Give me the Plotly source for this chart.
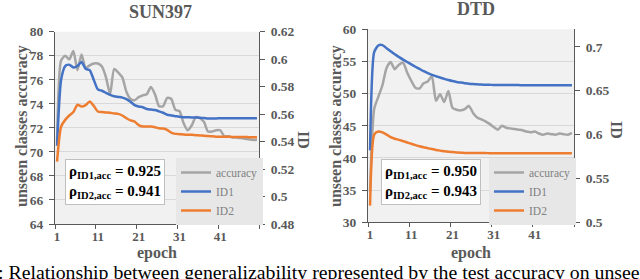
import plotly.graph_objects as go

epochs = list(range(1, 51))

# SUN397
sun_acc = [70.8, 77.6, 78.0, 77.7, 78.4, 76.8, 78.1, 77.0, 77.2, 77.35,
           77.35, 77.1, 76.2, 74.8, 76.9, 76.6, 76.2, 75.0, 74.4, 74.3,
           74.55, 74.7, 74.8, 75.4, 74.8, 73.8, 73.8, 74.5, 74.4, 73.5,
           73.4, 72.4, 71.8, 72.2, 72.9, 72.8, 72.5, 71.7, 71.7, 71.8,
           71.8, 71.3, 71.3, 71.2, 71.2, 71.15, 71.1, 71.05, 71.0, 71.0]
sun_id1 = [0.537, 0.585, 0.595, 0.596, 0.594, 0.595, 0.598, 0.593, 0.592, 0.585,
           0.578, 0.577, 0.5755, 0.574, 0.573, 0.5725, 0.572, 0.571, 0.569, 0.5665,
           0.5655, 0.565, 0.5637, 0.5633, 0.563, 0.562, 0.561, 0.5595, 0.559, 0.5585,
           0.558, 0.5578, 0.5577, 0.5576, 0.5575, 0.5574, 0.5572, 0.5568, 0.5568, 0.5568,
           0.557, 0.557, 0.557, 0.557, 0.557, 0.557, 0.557, 0.557, 0.557, 0.557]
sun_id2 = [0.5254, 0.551, 0.5558, 0.559, 0.5615, 0.5668, 0.5655, 0.5665, 0.5692, 0.566,
           0.5619, 0.5615, 0.5612, 0.561, 0.5605, 0.5602, 0.559, 0.557, 0.5555, 0.5546,
           0.552, 0.551, 0.551, 0.551, 0.5505, 0.5497, 0.5495, 0.5485, 0.5465, 0.5456,
           0.5454, 0.5452, 0.545, 0.5449, 0.5447, 0.5445, 0.5443, 0.5441, 0.5438, 0.5436,
           0.5436, 0.5435, 0.5435, 0.5434, 0.5434, 0.5433, 0.5433, 0.5432, 0.5432, 0.5432]

# DTD
dtd_acc = [34.8, 47.6, 49.5, 51.3, 54.0, 54.9, 53.8, 54.5, 54.8, 53.3,
           52.0, 50.9, 50.8, 51.6, 51.9, 52.7, 48.9, 49.9, 48.7, 50.4,
           47.8, 47.5, 47.4, 47.6, 48.1, 47.0, 46.3, 46.0, 45.7, 45.3,
           44.8, 44.4, 45.0, 44.7, 44.6, 44.5, 44.4, 44.3, 44.1, 44.0,
           44.1, 43.8, 43.6, 43.8, 43.7, 43.6, 43.8, 43.7, 43.6, 43.9]
dtd_id1 = [0.582, 0.694, 0.7015, 0.702, 0.6985, 0.695, 0.6915, 0.6885, 0.6855, 0.6827,
           0.680, 0.6773, 0.6748, 0.6722, 0.670, 0.668, 0.6665, 0.665, 0.6635, 0.6622,
           0.661, 0.660, 0.6593, 0.6586, 0.658, 0.6576, 0.6573, 0.657, 0.6568, 0.6567,
           0.6566, 0.6565, 0.6565, 0.6564, 0.6564, 0.6564, 0.6564, 0.6563, 0.6563, 0.6563,
           0.6563, 0.6563, 0.6563, 0.6563, 0.6563, 0.6563, 0.6563, 0.6563, 0.6563, 0.6563]
dtd_id2 = [0.519, 0.600, 0.6035, 0.6025, 0.600, 0.597, 0.5953, 0.594, 0.5925, 0.591,
           0.5895, 0.588, 0.5867, 0.5855, 0.5845, 0.5835, 0.5825, 0.5817, 0.581, 0.5804,
           0.580, 0.5796, 0.5793, 0.5791, 0.579, 0.579, 0.5789, 0.5789, 0.5789, 0.5788,
           0.5788, 0.5788, 0.5788, 0.5788, 0.5788, 0.5788, 0.5788, 0.5788, 0.5788, 0.5788,
           0.5788, 0.5788, 0.5788, 0.5788, 0.5788, 0.5788, 0.5788, 0.5788, 0.5788, 0.5788]

titles = ["SUN397", "DTD"]
rho_texts = [("0.925", "0.941"), ("0.950", "0.943")]
x_ticks = [1, 11, 21, 31, 41]
caption = ": Relationship between generalizability represented by the test accuracy on unseen"

SERIF = "Liberation Serif"
AX = "#595959"
GRAY = "#a5a5a5"
BLUE = "#4472c4"
ORANGE = "#ed7d31"
W, H = 640, 279

def px(x):
    return x / W

def py(y):
    return (H - y) / H

fig = go.Figure()

panels = [
    dict(acc=sun_acc, id1=sun_id1, id2=sun_id2, xa="x", ya="y", ya2="y2", leg="legend"),
    dict(acc=dtd_acc, id1=dtd_id1, id2=dtd_id2, xa="x2", ya="y3", ya2="y4", leg="legend2"),
]
for p in panels:
    fig.add_trace(go.Scatter(x=epochs, y=p["acc"], name="accuracy", mode="lines",
                             line=dict(color=GRAY, width=2.5, shape="spline", smoothing=0.6),
                             xaxis=p["xa"], yaxis=p["ya"], legend=p["leg"]))
    fig.add_trace(go.Scatter(x=epochs, y=p["id1"], name="ID1", mode="lines",
                             line=dict(color=BLUE, width=2.5, shape="spline", smoothing=0.6),
                             xaxis=p["xa"], yaxis=p["ya2"], legend=p["leg"]))
    fig.add_trace(go.Scatter(x=epochs, y=p["id2"], name="ID2", mode="lines",
                             line=dict(color=ORANGE, width=2.5, shape="spline", smoothing=0.6),
                             xaxis=p["xa"], yaxis=p["ya2"], legend=p["leg"]))

tickfont = dict(family=SERIF, size=13.5, color=AX)
TITLE_SIZE = 16

def xaxis(domain, anchor):
    return dict(domain=domain, anchor=anchor, range=[0.5, 50.5], automargin=False,
                tickmode="array", tickvals=x_ticks, ticktext=[f"<b>{v}</b>" for v in x_ticks],
                ticks="", showgrid=False, zeroline=False, showline=True, linecolor=AX, linewidth=1,
                tickfont=dict(family=SERIF, size=13, color=AX), ticklabelstandoff=0,
                minor=dict(tickmode="array", tickvals=[0.5 + 10 * k for k in range(6)],
                           ticks="outside", ticklen=4, tickcolor=AX, showgrid=False))

def yleft(domain, anchor, rng, dtick):
    return dict(domain=domain, anchor=anchor, range=rng, dtick=dtick, tick0=rng[0], automargin=False,
                ticks="outside", ticklen=5, tickcolor=AX, showline=True, linecolor=AX,
                showgrid=True, gridcolor="#d9d9d9", gridwidth=1, zeroline=False,
                tickfont=tickfont, tickprefix="<b>", ticksuffix="</b>", ticklabelstandoff=3)

def yright(domain, anchor, overlay, rng, dtick):
    return dict(domain=domain, anchor=anchor, overlaying=overlay, side="right",
                range=rng, dtick=dtick, tick0=rng[0], automargin=False,
                ticks="outside", ticklen=5, tickcolor=AX, showline=True, linecolor=AX,
                showgrid=False, zeroline=False,
                tickfont=tickfont, tickprefix="<b>", ticksuffix="</b>", ticklabelstandoff=3)

dom1x = [px(55), px(259)]
dom1y = [py(224), py(31.7)]
dom2x = [px(368), px(574)]
dom2y = [py(222.3), py(29.3)]

legend_common = dict(bgcolor="#e7e7e7", borderwidth=0, itemwidth=30,
                     font=dict(family=SERIF, size=11.5, color="#808080"),
                     xanchor="left", yanchor="top", tracegroupgap=0, itemclick=False)

fig.update_layout(
    width=W, height=H, margin=dict(l=0, r=0, t=0, b=0, autoexpand=False),
    paper_bgcolor="white", plot_bgcolor="#f1f1f1",
    xaxis=xaxis(dom1x, "y"),
    yaxis=yleft(dom1y, "x", [64, 80], 2),
    yaxis2=yright(dom1y, "x", "y", [0.48, 0.62], 0.02),
    xaxis2=xaxis(dom2x, "y3"),
    yaxis3=yleft(dom2y, "x2", [30, 60], 5),
    yaxis4=yright(dom2y, "x2", "y3", [0.5, 0.72], 0.05),
    legend=dict(x=px(176), y=py(158), **legend_common),
    legend2=dict(x=px(489), y=py(158), **legend_common),
    showlegend=True,
)

def text_ann(text, cx, cy, size, color=AX, angle=0, bold=True):
    return dict(text=f"<b>{text}</b>" if bold else text, x=px(cx), y=py(cy),
                xref="paper", yref="paper", showarrow=False, textangle=angle,
                font=dict(family=SERIF, size=size, color=color),
                xanchor="center", yanchor="middle")

ann = []
ann.append(text_ann(titles[0], 160, 12, 18))
ann.append(text_ann(titles[1], 476, 9, 18))
ann.append(text_ann("ID", 304, 140, TITLE_SIZE, angle=90))
ann.append(text_ann("ID", 617, 130, TITLE_SIZE, angle=90))
ann.append(text_ann("unseen classes accuracy", 22, 126, TITLE_SIZE, angle=-90))
ann.append(text_ann("unseen classes accuracy", 336, 126, TITLE_SIZE, angle=-90))
ann.append(text_ann("epoch", 157, 253, TITLE_SIZE))
ann.append(text_ann("epoch", 471, 253, TITLE_SIZE))
for (r1, r2), cx in zip(rho_texts, [115, 431]):
    ann.append(dict(text=f"<b>ρ<sub>ID1,acc</sub> = {r1}</b><br><b>ρ<sub>ID2,acc</sub> = {r2}</b>",
                    x=px(cx), y=py(182), xref="paper", yref="paper", showarrow=False,
                    align="left", bgcolor="white", bordercolor="#bfbfbf", borderwidth=1, borderpad=3,
                    font=dict(family=SERIF, size=15, color="black"),
                    xanchor="center", yanchor="middle"))
ann.append(dict(text=caption, x=px(-4), y=py(272), xref="paper", yref="paper", showarrow=False,
                xanchor="left", yanchor="middle", font=dict(family=SERIF, size=19.8, color="black")))
fig.update_layout(annotations=ann)

fig.write_html("out.html", config={"displayModeBar": False},
               post_script="document.body.style.margin='0';document.body.style.overflow='hidden';")
